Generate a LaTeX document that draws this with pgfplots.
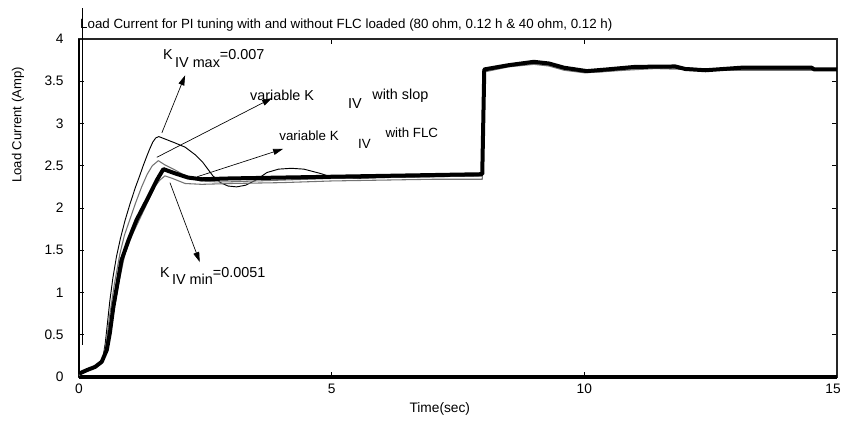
\documentclass[border=0pt]{standalone}
\usepackage{pgfplots}
\pgfplotsset{compat=1.18}
\usetikzlibrary{arrows.meta}
\usepackage{fontspec}
\setmainfont{Liberation Sans}

\begin{document}
\begin{tikzpicture}
\begin{axis}[
  scale only axis, width=568.5pt, height=253.5pt,
  xmin=0, xmax=15, ymin=0, ymax=4,
  xtick={0,5,10,15}, xticklabels={0,5,10,15\hspace*{6pt}},
  ytick={0,0.5,1,1.5,2,2.5,3,3.5,4},
  yticklabels={0,0.5,1,1.5,2,2.5,3,3.5,4},
  tick align=inside, major tick length=3.75pt,
  tick style={black, line width=0.6pt},
  axis line style={line width=1.1pt, black!85},
  clip=false,
  /pgf/number format/assume math mode=true,
  ticklabel style={font=\fontsize{10.3}{12}\selectfont},
  yticklabel style={xshift=-8pt},
  xticklabel style={yshift=-2pt},
]
% left and bottom spines heavier
\draw[line width=1.6pt] (rel axis cs:0,0) -- (rel axis cs:0,1);
\draw[line width=2.3pt] (rel axis cs:0,0) -- (rel axis cs:1,0);

% K_IV max (thin black)
\addplot[black, line width=0.7pt, line join=round] coordinates {
(0,0.02) (0.1,0.05) (0.2,0.08) (0.3,0.12) (0.42,0.17) (0.48,0.25) (0.52,0.4) (0.56,0.62) (0.61,0.9) (0.67,1.17) (0.74,1.42) (0.82,1.64) (0.91,1.85) (1.01,2.05) (1.12,2.25) (1.2,2.38) (1.27,2.5) (1.34,2.61) (1.4,2.7) (1.46,2.78) (1.52,2.83) (1.58,2.845) (1.73,2.81) (1.9,2.77) (2.1,2.72) (2.3,2.63) (2.45,2.54) (2.55,2.46) (2.65,2.38) (2.8,2.3) (2.95,2.26) (3.12,2.25) (3.3,2.27) (3.5,2.33) (3.72,2.42) (3.95,2.46) (4.2,2.47) (4.45,2.46) (4.77,2.41) (5.03,2.36) (5.5,2.35) (6,2.36) (7,2.37) (7.98,2.38) (8.0,3.63) (8.5,3.69) (9.0,3.72) (9.3,3.7) (9.6,3.65) (10.0,3.61) (10.3,3.62) (10.8,3.65) (11.4,3.67) (12.0,3.66) (12.5,3.64) (13.5,3.65) (14.5,3.65) (15,3.64)
};
% initial spike of one trace
\addplot[black, line width=0.6pt] coordinates {(0.06,0.38) (0.06,4.37)};

% variable K_IV with slop (gray)
\addplot[black!55, line width=0.8pt, line join=round] coordinates {
(0,0.02) (0.42,0.17) (0.5,0.28) (0.55,0.45) (0.6,0.7) (0.7,1.1) (0.81,1.46) (0.9,1.68) (1.01,1.87) (1.12,2.06) (1.24,2.25) (1.35,2.4) (1.45,2.5) (1.57,2.56) (1.7,2.51) (1.9,2.45) (2.05,2.4) (2.23,2.35) (2.4,2.32) (2.7,2.31) (3.0,2.31) (3.5,2.32) (4,2.33) (5,2.35) (6,2.36) (7,2.37) (7.98,2.38) (8.0,3.62) (8.5,3.68) (9.0,3.71) (9.3,3.69) (9.6,3.64) (10.0,3.61) (10.3,3.61) (10.8,3.64) (11.4,3.66) (12,3.65) (12.5,3.64) (13.5,3.64) (15,3.64)
};

% K_IV min (gray)
\addplot[black!55, line width=0.8pt, line join=round] coordinates {
(0,0.02) (0.42,0.16) (0.52,0.25) (0.6,0.45) (0.68,0.75) (0.8,1.15) (0.91,1.46) (1.05,1.68) (1.21,1.88) (1.35,2.06) (1.5,2.25) (1.6,2.33) (1.7,2.38) (1.85,2.35) (2.1,2.29) (2.43,2.28) (3,2.29) (4,2.3) (5,2.32) (6,2.33) (7,2.34) (7.98,2.34) (8.02,3.61) (8.5,3.67) (9.0,3.7) (9.3,3.68) (9.6,3.63) (10.0,3.6) (10.3,3.61) (10.8,3.63) (11.4,3.65) (12,3.64) (12.5,3.63) (13.5,3.63) (15,3.63)
};

% variable K_IV with FLC (thick black)
\addplot[black, line width=3pt, line join=round] coordinates {
(0,0.04) (0.15,0.08) (0.32,0.12) (0.45,0.18) (0.55,0.32) (0.61,0.52) (0.68,0.83) (0.75,1.07) (0.84,1.38) (0.98,1.62) (1.14,1.86) (1.34,2.09) (1.54,2.33) (1.67,2.46) (1.9,2.41) (2.16,2.36) (2.43,2.34) (3,2.35) (4,2.36) (5,2.37) (6,2.38) (7,2.39) (7.98,2.40) (8.02,3.64) (8.5,3.69) (9.0,3.73) (9.3,3.71) (9.6,3.66) (10.05,3.62) (10.45,3.64) (11.0,3.67) (11.8,3.675) (12.0,3.645) (12.4,3.63) (13.1,3.66) (14.5,3.66) (14.55,3.64) (15,3.64)
};

% title and axis labels
\node[anchor=base west, font=\fontsize{10}{12}\selectfont, inner sep=0pt] at (rel axis cs:0.0013,1.0325)
  {Load Current for PI tuning with and without FLC loaded (80 ohm, 0.12 h \& 40 ohm, 0.12 h)};
\node[rotate=90, anchor=center, inner sep=0pt, font=\fontsize{9.8}{12}\selectfont] at (rel axis cs:-0.0805,0.7456)
  {Load Current (Amp)};
\node[anchor=center, inner sep=0pt, font=\fontsize{10.3}{12}\selectfont] at (rel axis cs:0.476,-0.095)
  {Time(sec)};

% annotations
\tikzset{ann/.style={-{Triangle[length=7.5pt,width=4.5pt]}, black, line width=0.5pt}}
\draw[ann] (axis cs:1.64,2.89) -- (axis cs:2.10,3.57);
\draw[ann] (axis cs:1.54,2.60) -- (axis cs:3.82,3.30);
\draw[ann] (axis cs:2.34,2.37) -- (axis cs:4.04,2.70);
\draw[ann] (axis cs:1.80,2.30) -- (axis cs:2.39,1.36);

\node[anchor=base west, inner sep=0pt, font=\fontsize{10.8}{13}\selectfont] at (axis cs:1.66,3.76)
  {K\,\raisebox{-6pt}{IV max}=0.007};
\node[anchor=base west, inner sep=0pt, font=\fontsize{10.8}{13}\selectfont] at (axis cs:1.60,1.18)
  {K\,\raisebox{-5.5pt}{IV min}=0.0051};
\node[anchor=base west, inner sep=0pt, font=\fontsize{10.8}{13}\selectfont] at (axis cs:3.38,3.27) {variable K};
\node[anchor=base west, inner sep=0pt, font=\fontsize{10.8}{13}\selectfont] at (axis cs:5.32,3.18) {IV};
\node[anchor=base west, inner sep=0pt, font=\fontsize{10.8}{13}\selectfont] at (axis cs:5.80,3.28) {with slop};
\node[anchor=base west, inner sep=0pt, font=\fontsize{10}{12}\selectfont] at (axis cs:3.96,2.80) {variable K};
\node[anchor=base west, inner sep=0pt, font=\fontsize{10}{12}\selectfont] at (axis cs:5.52,2.70) {IV};
\node[anchor=base west, inner sep=0pt, font=\fontsize{10}{12}\selectfont] at (axis cs:6.06,2.83) {with FLC};
\end{axis}
\pgfresetboundingbox
\path[use as bounding box] (-59.25pt,-33pt) rectangle (573pt,282.75pt);
\end{tikzpicture}
\end{document}
